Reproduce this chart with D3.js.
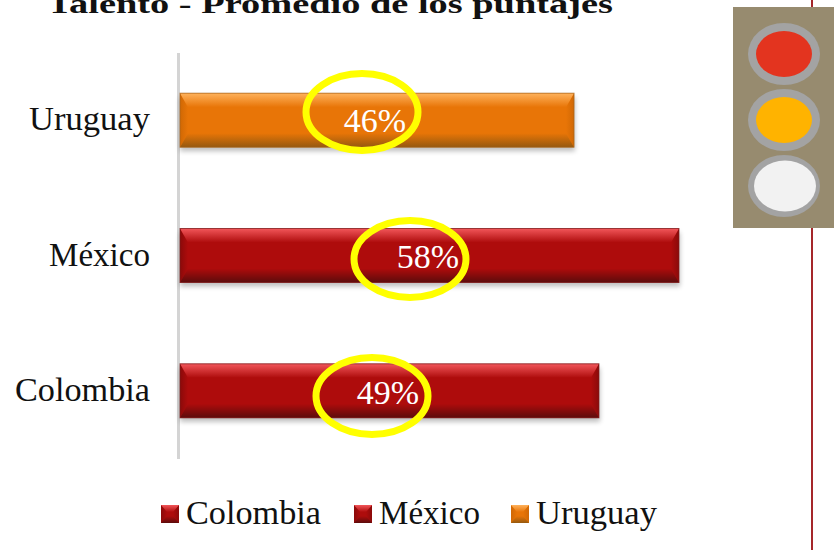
<!DOCTYPE html>
<html><head><meta charset="utf-8">
<script src="https://cdn.jsdelivr.net/npm/d3@7"></script>
<style>html,body{margin:0;padding:0;background:#fff;overflow:hidden}svg{display:block}text{font-family:"Liberation Serif",serif}</style>
</head><body><svg id="c" width="834" height="550"></svg>
<script>
const categories = ["Uruguay","México","Colombia"];
const values = [45.8,58,48.7];
const barColors = ["orange","red","red"];
const legendOrder = ["Colombia","México","Uruguay"];
const legendColors = ["red","red","orange"];
const lampColors = ["#e3341f","#ffb300","#f2f2f2"];
const titleText = "Talento - Promedio de los puntajes";

const pal = {
  red:{base:"#ae0c0c",top:"#f2565a",side:"#8a0a0a",bot:"#5c0c0c",stroke:"#7a1c1c"},
  orange:{base:"#e87507",top:"#ffb25c",side:"#d06804",bot:"#96590f",stroke:"#a5651f"}
};
const svg = d3.select("#c");
const defs = svg.append("defs");
function grad(id,x2,y2,a,b){
  const g = defs.append("linearGradient").attr("id",id).attr("x1",0).attr("y1",0).attr("x2",x2).attr("y2",y2);
  g.append("stop").attr("offset",0).attr("stop-color",a);
  g.append("stop").attr("offset",1).attr("stop-color",b);
}
Object.entries(pal).forEach(([k,p])=>{
  grad("top-"+k,0,1,p.top,p.base);
  grad("bot-"+k,0,1,p.base,p.bot);
  grad("left-"+k,1,0,p.side,p.base);
  grad("right-"+k,1,0,p.base,p.side);
});
defs.append("filter").attr("id","sh").attr("x","-5%").attr("y","-20%").attr("width","110%").attr("height","150%")
  .append("feGaussianBlur").attr("stdDeviation",2.5);

// vertical red rule and traffic light
svg.append("line").attr("x1",812).attr("x2",812).attr("y1",0).attr("y2",550).attr("stroke","#a5262a").attr("stroke-width",2);
svg.append("rect").attr("x",733).attr("y",7).attr("width",101).attr("height",221).attr("fill","#978b6f");
const lampY = d3.scalePoint().domain(d3.range(3)).range([54,186]);
lampColors.forEach((c,i)=>{
  svg.append("ellipse").attr("cx",784).attr("cy",lampY(i)).attr("rx",36).attr("ry",31).attr("fill","#a3a3a3");
  const white = i===2;
  svg.append("ellipse").attr("cx",white?785:784).attr("cy",lampY(i)).attr("rx",white?31:28).attr("ry",white?25.5:23).attr("fill",c);
});

// scales
const x = d3.scaleLinear().domain([0,58]).range([180,679]);
const yStep = d3.scaleBand().domain(categories).range([52.5,458.5]);

// axis line and category labels
const labelWidth = {"Uruguay":121,"México":101,"Colombia":135};
const axis = d3.axisLeft(yStep).tickSize(0).tickPadding(28);
const gAxis = svg.append("g").attr("transform","translate(178,0)").call(axis);
gAxis.select(".domain").attr("stroke","#d4d4d4").attr("stroke-width",3);
gAxis.selectAll("text").attr("font-size",34.5).attr("fill","#111").attr("dy","0.29em").attr("font-family","Liberation Serif")
  .attr("textLength",d=>labelWidth[d]).attr("lengthAdjust","spacingAndGlyphs");

function bevel(g,x0,y0,w,h,k,d,dv){
  const p = pal[k];
  g.append("rect").attr("x",x0).attr("y",y0).attr("width",w).attr("height",h).attr("fill",p.base);
  const poly=(pts,fill)=>g.append("polygon").attr("points",pts.map(a=>a.join(",")).join(" ")).attr("fill",fill);
  poly([[x0,y0],[x0+d,y0+dv],[x0+d,y0+h-dv],[x0,y0+h]],`url(#left-${k})`);
  poly([[x0+w,y0],[x0+w-d,y0+dv],[x0+w-d,y0+h-dv],[x0+w,y0+h]],`url(#right-${k})`);
  poly([[x0,y0],[x0+w,y0],[x0+w-d,y0+dv],[x0+d,y0+dv]],`url(#top-${k})`);
  poly([[x0,y0+h],[x0+w,y0+h],[x0+w-d,y0+h-dv],[x0+d,y0+h-dv]],`url(#bot-${k})`);
}

// bars
categories.forEach((c,i)=>{
  const x0=x(0), w=x(values[i])-x0, cy=yStep(c)+yStep.bandwidth()/2, h=54, y0=cy-h/2, k=barColors[i];
  const g=svg.append("g");
  g.append("rect").attr("x",x0).attr("y",y0+4).attr("width",w+1).attr("height",h).attr("fill","#000").attr("opacity",0.25).attr("filter","url(#sh)");
  bevel(g,x0,y0,w,h,k,8,14);
  g.append("rect").attr("x",x0).attr("y",y0).attr("width",w).attr("height",h).attr("fill","none").attr("stroke",pal[k].stroke).attr("stroke-width",1).attr("opacity",0.7);
});

// value labels and yellow ellipses
const labelX = [375,428,388], labelY = [121,257,393];
const ringX = [362,410,372], ringY = [112,259,396];
categories.forEach((c,i)=>{
  svg.append("text").attr("x",labelX[i]).attr("y",labelY[i]).attr("dy","0.33em").attr("text-anchor","middle").attr("font-size",34).attr("fill","#fff").text(d3.format(".0f")(values[i])+"%");
  svg.append("ellipse").attr("cx",ringX[i]).attr("cy",ringY[i]).attr("rx",56).attr("ry",38.5).attr("fill","none").attr("stroke","#ffff00").attr("stroke-width",7);
});

// title
svg.append("text").attr("x",330).attr("y",13).attr("text-anchor","middle").attr("font-family","DejaVu Serif").attr("font-size",27).attr("font-weight","bold").attr("fill","#111").attr("textLength",566).attr("lengthAdjust","spacingAndGlyphs").text(titleText);

// legend
const legX = [161,354,511];
legendOrder.forEach((c,i)=>{
  const g=svg.append("g");
  bevel(g,legX[i],505,18,18,legendColors[i],6,7);
  g.append("text").attr("x",legX[i]+25).attr("y",524).attr("font-size",34.5).attr("fill","#111")
    .attr("textLength",labelWidth[c]).attr("lengthAdjust","spacingAndGlyphs").text(c);
});
</script></body></html>
